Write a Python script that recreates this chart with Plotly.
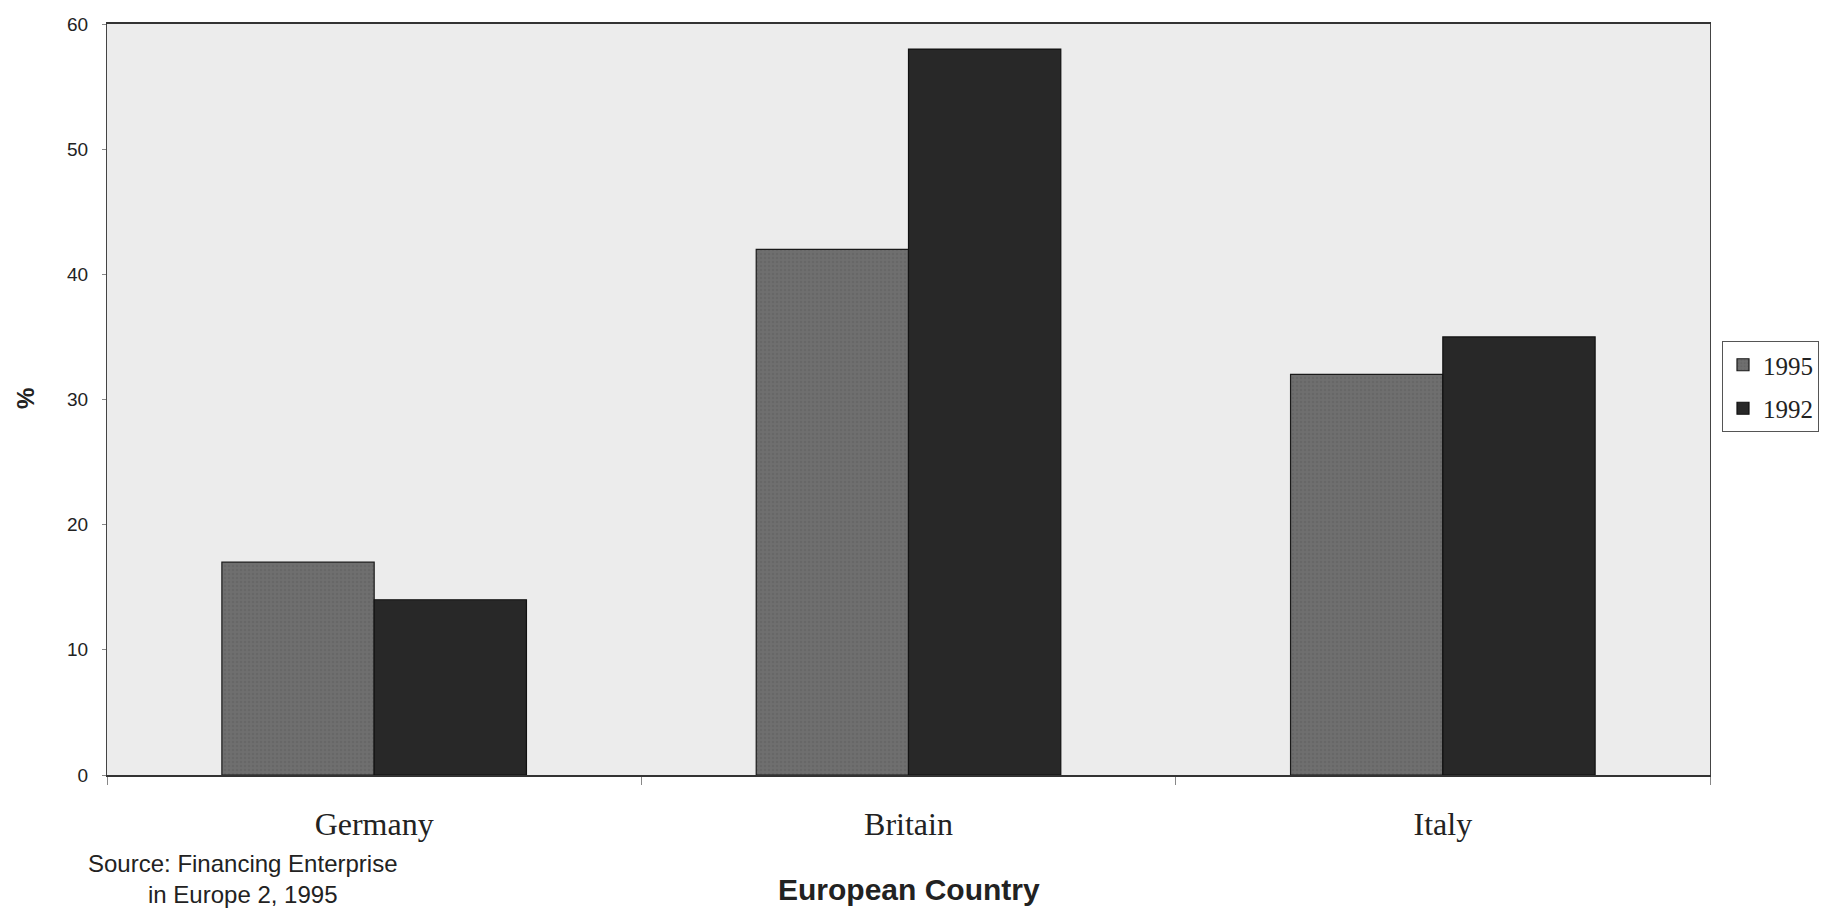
import plotly.graph_objects as go

countries = ["Germany", "Britain", "Italy"]
series_names = ["1995", "1992"]
values_1995 = [17, 42, 32]
values_1992 = [14, 58, 35]
y_ticks = [0, 10, 20, 30, 40, 50, 60]

W, H = 1830, 909
L, R, T, B = 107, 120, 24, 134
pw, ph = W - L - R, H - T - B

def px_x(x):
    return (x - L) / pw

def px_y(y):
    return (H - B - y) / ph

fig = go.Figure()
fig.add_trace(go.Bar(
    x=countries, y=values_1995, name=series_names[0], legendgroup="a",
    marker=dict(color="#6f6f6f", line=dict(color="#1a1a1a", width=1.2),
                pattern=dict(shape=".", fgcolor="#5e5e5e", size=4, solidity=0.3)),
))
fig.add_trace(go.Bar(
    x=countries, y=values_1992, name=series_names[1], legendgroup="b",
    marker=dict(color="#282828", line=dict(color="#111111", width=1.2)),
))

fig.update_layout(
    width=W, height=H,
    margin=dict(l=L, r=R, t=T, b=B, autoexpand=False),
    paper_bgcolor="white",
    plot_bgcolor="#ececec",
    barmode="group",
    bargap=0.43,
    bargroupgap=0,
    showlegend=True,
    legend=dict(
        x=px_x(1722), y=px_y(341), xanchor="left", yanchor="top",
        bordercolor="#555555", borderwidth=1, bgcolor="white",
        font=dict(family="Liberation Serif, serif", size=25, color="#222222"),
        traceorder="grouped", tracegroupgap=8, itemwidth=30,
    ),
    xaxis=dict(
        showgrid=False, showline=True, linecolor="#333333", linewidth=1.5,
        mirror=True, ticks="outside", tickson="boundaries", ticklen=8,
        tickcolor="#888888", ticklabelstandoff=20,
        tickfont=dict(family="Liberation Serif, serif", size=32, color="#222222"),
    ),
    yaxis=dict(
        range=[0, 60], tickvals=y_ticks, showgrid=False, zeroline=False,
        showline=True, linecolor="#444444", linewidth=1.2, mirror=True,
        ticks="outside", ticklen=4, tickcolor="#888888", ticklabelstandoff=10,
        tickfont=dict(family="Liberation Sans, Arial, sans-serif", size=19, color="#222222"),
    ),
    annotations=[
        dict(text="<b>%</b>", xref="paper", yref="paper", x=px_x(26), y=px_y(399),
             xanchor="center", yanchor="middle", showarrow=False, textangle=-90,
             font=dict(family="Liberation Sans, Arial, sans-serif", size=24, color="#222222")),
        dict(text="<b>European Country</b>", xref="paper", yref="paper", x=px_x(909), y=px_y(889),
             xanchor="center", yanchor="middle", showarrow=False,
             font=dict(family="Liberation Sans, Arial, sans-serif", size=30, color="#222222")),
        dict(text="Source: Financing Enterprise<br>in Europe 2, 1995", xref="paper", yref="paper",
             x=px_x(243), y=px_y(879), xanchor="center", yanchor="middle", showarrow=False,
             align="center",
             font=dict(family="Liberation Sans, Arial, sans-serif", size=24, color="#222222")),
    ],
)

fig.write_html("out.html")
